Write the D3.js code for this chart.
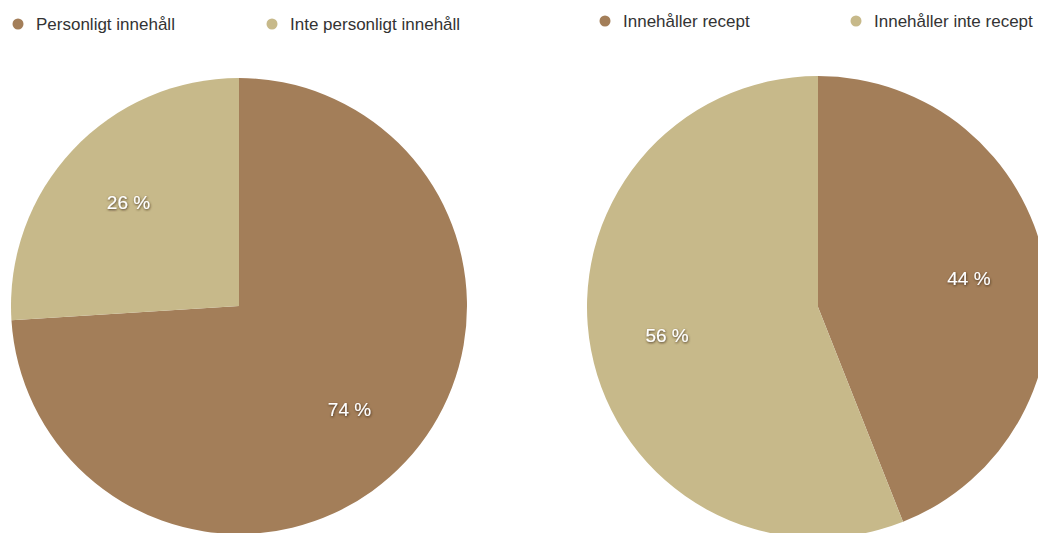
<!DOCTYPE html>
<html>
<head>
<meta charset="utf-8">
<script src="https://cdn.jsdelivr.net/npm/d3@7"></script>
<style>
  html, body { margin: 0; padding: 0; background: #fff; }
  svg { display: block; }
</style>
</head>
<body>
<div id="chart"></div>
<script>
// ========== DATA ==========
const leftCategories = ["Personligt innehåll", "Inte personligt innehåll"];
const leftValues = [74, 26];
const rightCategories = ["Innehåller recept", "Innehåller inte recept"];
const rightValues = [44, 56];
const sliceColors = ["#a37e59", "#c7b98a"];

const width = 1038;
const height = 533;

const svg = d3.select("#chart")
  .append("svg")
  .attr("width", width)
  .attr("height", height);

// soft dark shadow behind the percentage labels
const defs = svg.append("defs");
defs.append("filter")
  .attr("id", "labelShadow")
  .attr("x", "-20%").attr("y", "-40%")
  .attr("width", "140%").attr("height", "180%")
  .append("feDropShadow")
  .attr("dx", 0.5).attr("dy", 1)
  .attr("stdDeviation", 1)
  .attr("flood-color", "#3a2a18")
  .attr("flood-opacity", 0.9);

const color = d3.scaleOrdinal().range(sliceColors);

// Function to draw one pie with its legend
function drawPie(opts) {
  const { categories, values, cx, cy, r, legend } = opts;
  color.domain(categories);

  const pie = d3.pie().sort(null).value(d => d.value);
  const arc = d3.arc().innerRadius(0).outerRadius(r);
  const labelArc = d3.arc().innerRadius(r * 0.665).outerRadius(r * 0.665);

  const data = categories.map((c, i) => ({ name: c, value: values[i] }));
  const g = svg.append("g").attr("transform", `translate(${cx}, ${cy})`);

  const slices = pie(data);

  g.selectAll("path")
    .data(slices)
    .join("path")
    .attr("d", arc)
    .attr("fill", d => color(d.data.name));

  g.selectAll("text")
    .data(slices)
    .join("text")
    .attr("transform", d => `translate(${labelArc.centroid(d)})`)
    .attr("text-anchor", "middle")
    .attr("dy", "0.35em")
    .style("font-family", "'Liberation Sans', Arial, sans-serif")
    .style("font-size", "19px")
    .style("fill", "#fff")
    .attr("filter", "url(#labelShadow)")
    .text(d => `${d.data.value} %`);

  // legend
  const lg = svg.append("g");
  categories.forEach((c, i) => {
    const item = lg.append("g")
      .attr("transform", `translate(${legend.x[i]}, ${legend.y})`);
    item.append("circle")
      .attr("r", 5.5)
      .attr("fill", color(c));
    item.append("text")
      .attr("x", 18)
      .attr("dy", "0.35em")
      .style("font-family", "'Liberation Sans', Arial, sans-serif")
      .style("font-size", "17px")
      .style("fill", "#333")
      .text(c);
  });
}

drawPie({
  categories: leftCategories,
  values: leftValues,
  cx: 239, cy: 306, r: 228,
  legend: { x: [18, 272], y: 24 }
});

drawPie({
  categories: rightCategories,
  values: rightValues,
  cx: 818, cy: 307, r: 231,
  legend: { x: [605, 856], y: 21 }
});
</script>
</body>
</html>
